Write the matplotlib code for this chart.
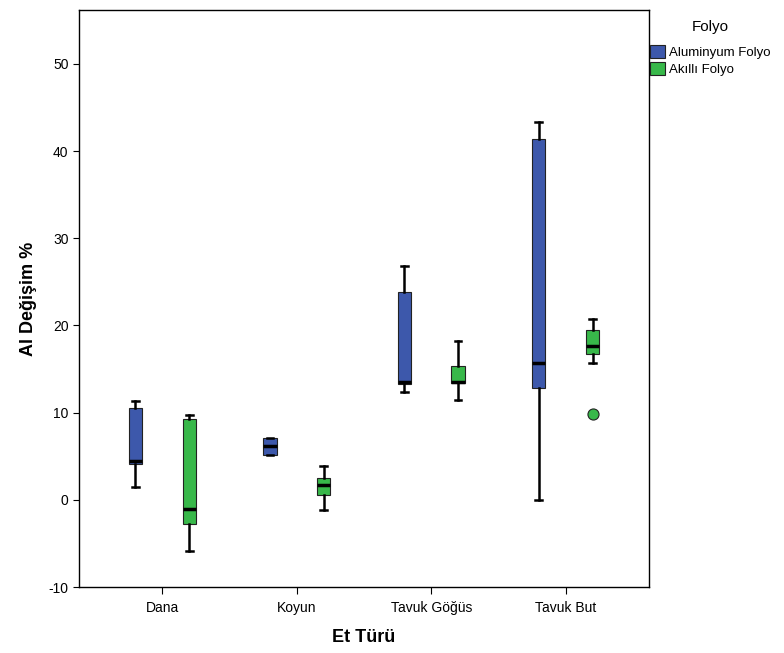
import matplotlib.pyplot as plt
from matplotlib.patches import Patch

plt.rcParams['font.family'] = ['Liberation Sans', 'DejaVu Sans']
plt.rcParams['axes.unicode_minus'] = False

categories = ['Dana', 'Koyun', 'Tavuk Göğüs', 'Tavuk But']
groups = ['Aluminyum Folyo', 'Akıllı Folyo']

# box statistics per group, one value per category
alu_whislo = [1.5, 5.2, 12.4, 0.0]
alu_q1 = [4.1, 5.2, 13.3, 12.8]
alu_med = [4.5, 6.2, 13.5, 15.7]
alu_q3 = [10.5, 7.1, 23.8, 41.4]
alu_whishi = [11.3, 7.1, 26.8, 43.3]
alu_fliers = [[], [], [], []]

akl_whislo = [-5.9, -1.2, 11.5, 15.7]
akl_q1 = [-2.8, 0.6, 13.4, 16.7]
akl_med = [-1.0, 1.7, 13.5, 17.7]
akl_q3 = [9.3, 2.5, 15.3, 19.5]
akl_whishi = [9.7, 3.9, 18.2, 20.7]
akl_fliers = [[], [], [], [9.8]]

colors = ['#3D58AB', '#38B84A']


def make_stats(whislo, q1, med, q3, whishi, fliers):
    return [dict(whislo=a, q1=b, med=c, q3=d, whishi=e, fliers=f)
            for a, b, c, d, e, f in zip(whislo, q1, med, q3, whishi, fliers)]


series = [
    make_stats(alu_whislo, alu_q1, alu_med, alu_q3, alu_whishi, alu_fliers),
    make_stats(akl_whislo, akl_q1, akl_med, akl_q3, akl_whishi, akl_fliers),
]

fig = plt.figure(figsize=(7.84, 6.53), dpi=100)
ax = fig.add_axes([0.1008, 0.101, 0.727, 0.884])

offsets = [-0.2, 0.2]
for stats, off, col in zip(series, offsets, colors):
    pos = [i + off for i in range(len(categories))]
    ax.bxp(stats, positions=pos, widths=0.1, patch_artist=True,
           showfliers=True,
           boxprops=dict(facecolor=col, edgecolor='#222222', linewidth=0.8),
           medianprops=dict(color='black', linewidth=2.5),
           whiskerprops=dict(color='black', linewidth=1.8),
           capprops=dict(color='black', linewidth=1.8),
           capwidths=0.05,
           flierprops=dict(marker='o', markerfacecolor=col,
                           markeredgecolor='#222222', markersize=8,
                           markeredgewidth=0.8))

ax.set_xlim(-0.62, 3.62)
ax.set_ylim(-10, 56.2)
ax.set_xticks(range(len(categories)))
ax.set_xticklabels(categories, fontsize=10)
ax.set_yticks(range(-10, 51, 10))
ax.tick_params(axis='y', labelsize=10, length=4)
ax.tick_params(axis='x', length=5, pad=5)
for s in ax.spines.values():
    s.set_linewidth(1.0)

ax.set_xlabel('Et Türü', fontsize=13, fontweight='bold', labelpad=10)
ax.set_ylabel('Al Değişim %', fontsize=13, fontweight='bold', labelpad=8)

# legend: centred title above square patches
fig.text(710 / 784, 1 - 27 / 653, 'Folyo', ha='center', va='center', fontsize=11)
handles = [Patch(facecolor=c, edgecolor='#222222', linewidth=0.8) for c in colors]
fig.legend(handles, groups, loc='upper left',
           bbox_to_anchor=(649 / 784, 1 - 44 / 653), frameon=False, fontsize=9.5,
           handlelength=1.1, handleheight=1.1, handletextpad=0.3,
           labelspacing=0.25, borderaxespad=0.0, borderpad=0.1)

fig.savefig('out.png', dpi=100, facecolor='white')
